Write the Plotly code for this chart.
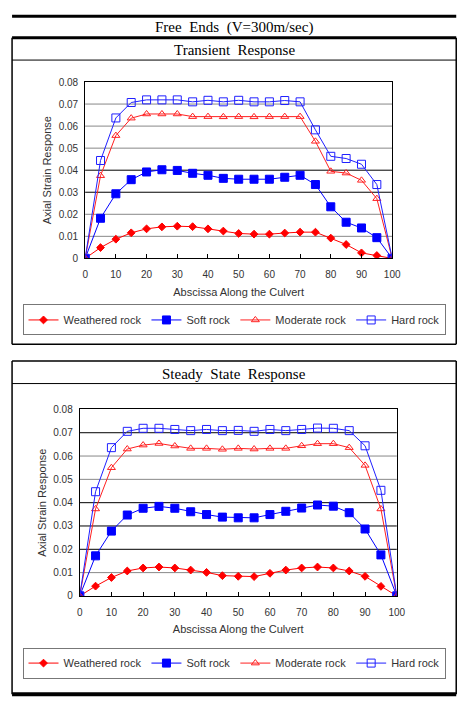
import plotly.graph_objects as go

# abscissa along the culvert
x = [0, 5, 10, 15, 20, 25, 30, 35, 40, 45, 50, 55, 60, 65, 70, 75, 80, 85, 90, 95, 100]

# transient response
tr_weathered = [0, 0.0049, 0.0087, 0.0116, 0.0134, 0.0143, 0.0146, 0.0144, 0.0134, 0.0124, 0.0113,
                0.0110, 0.0110, 0.0115, 0.0119, 0.0119, 0.0092, 0.0063, 0.0025, 0.0013, 0]
tr_soft = [0, 0.0182, 0.0293, 0.0357, 0.0392, 0.0402, 0.0399, 0.0386, 0.0377, 0.0363, 0.0359,
           0.0359, 0.0359, 0.0368, 0.0377, 0.0335, 0.0234, 0.0164, 0.0138, 0.0094, 0]
tr_moderate = [0, 0.0375, 0.0557, 0.0636, 0.0655, 0.0655, 0.0655, 0.0643, 0.0643, 0.0642, 0.0643,
               0.0642, 0.0643, 0.0643, 0.0643, 0.0531, 0.0395, 0.0387, 0.0354, 0.0271, 0]
tr_hard = [0, 0.0444, 0.0637, 0.0707, 0.0719, 0.0719, 0.0719, 0.0710, 0.0717, 0.0710, 0.0717,
           0.0710, 0.0710, 0.0716, 0.0710, 0.0583, 0.0463, 0.0453, 0.0427, 0.0335, 0]

# steady state response
ss_weathered = [0, 0.0042, 0.0079, 0.0107, 0.0120, 0.0124, 0.0120, 0.0111, 0.0101, 0.0087, 0.0084,
                0.0083, 0.0097, 0.0111, 0.0120, 0.0124, 0.0120, 0.0107, 0.0084, 0.0041, 0]
ss_soft = [0, 0.0172, 0.0278, 0.0347, 0.0376, 0.0384, 0.0376, 0.0361, 0.0349, 0.0338, 0.0335,
           0.0335, 0.0349, 0.0363, 0.0377, 0.0390, 0.0385, 0.0357, 0.0287, 0.0176, 0]
ss_moderate = [0, 0.0373, 0.0550, 0.0630, 0.0647, 0.0654, 0.0643, 0.0633, 0.0633, 0.0629, 0.0633,
               0.0630, 0.0633, 0.0633, 0.0644, 0.0653, 0.0653, 0.0636, 0.0560, 0.0373, 0]
ss_hard = [0, 0.0447, 0.0636, 0.0706, 0.0719, 0.0719, 0.0714, 0.0709, 0.0714, 0.0709, 0.0710,
           0.0706, 0.0714, 0.0709, 0.0714, 0.0720, 0.0719, 0.0709, 0.0644, 0.0453, 0]

names = ["Weathered rock", "Soft rock", "Moderate rock", "Hard rock"]
y_ticks = [0, 0.01, 0.02, 0.03, 0.04, 0.05, 0.06, 0.07, 0.08]
x_ticks = [0, 10, 20, 30, 40, 50, 60, 70, 80, 90, 100]

W, H = 474, 715
def px(v): return v / W
def py(v): return 1 - v / H

styles = [
    dict(color="#ff0000", symbol="diamond", size=6),
    dict(color="#0000ff", symbol="square", size=8),
    dict(color="#ff2020", symbol="triangle-up-open", size=7),
    dict(color="#2020ff", symbol="square-open", size=8),
]

fig = go.Figure()

panels = [
    ([tr_weathered, tr_soft, tr_moderate, tr_hard], "x", "y", "legend"),
    ([ss_weathered, ss_soft, ss_moderate, ss_hard], "x2", "y2", "legend2"),
]
for series, xa, ya, lg in panels:
    for vals, name, s in zip(series, names, styles):
        fig.add_trace(go.Scatter(
            x=x, y=vals, name=name, mode="lines+markers", xaxis=xa, yaxis=ya, legend=lg,
            line=dict(color=s["color"], width=1),
            marker=dict(symbol=s["symbol"], size=s["size"], color=s["color"],
                        line=dict(color=s["color"], width=1)),
        ))

sans = "Liberation Sans"
tick_font = dict(family=sans, size=10, color="#333333")
axis_common = dict(showline=True, linecolor="#000000", linewidth=1, mirror=True,
                   showgrid=False, zeroline=False, tickfont=tick_font)
xt = dict(text="Abscissa Along the Culvert", standoff=8, font=dict(family=sans, size=11))
yt = dict(text="Axial Strain Response", standoff=4, font=dict(family=sans, size=11))
x_common = dict(range=[0, 100], tickvals=x_ticks, ticks="inside", ticklen=4,
                tickcolor="#000000", ticklabelstandoff=7, title=xt, **axis_common)
y_common = dict(range=[0, 0.08], tickvals=y_ticks, ticks="", ticklabelstandoff=4,
                title=yt, **axis_common)
legend_common = dict(orientation="h", x=0.5, xanchor="center", yanchor="middle",
                     bordercolor="#777777", borderwidth=1, bgcolor="white",
                     font=dict(family=sans, size=11, color="#333333"))

fig.update_layout(
    width=W, height=H, margin=dict(l=0, r=0, t=0, b=0),
    paper_bgcolor="white", plot_bgcolor="white", showlegend=True,
    font=dict(family=sans, size=11, color="#333333"),
    xaxis=dict(domain=[px(84.3), px(399.3)], anchor="y", **x_common),
    yaxis=dict(domain=[py(256.7), py(77.3)], anchor="x", **y_common),
    xaxis2=dict(domain=[px(78.7), px(404)], anchor="y2", **x_common),
    yaxis2=dict(domain=[py(600), py(410.3)], anchor="x2", **y_common),
    legend=dict(y=py(319.3), **legend_common),
    legend2=dict(y=py(668.3), **legend_common),
)

# gridlines (some print darker in the original)
grid_tr = {0.01: "#888888", 0.02: "#888888", 0.03: "#000000", 0.04: "#000000",
           0.05: "#888888", 0.06: "#888888", 0.07: "#888888"}
grid_ss = {0.01: "#888888", 0.02: "#000000", 0.03: "#000000", 0.04: "#000000",
           0.05: "#888888", 0.06: "#888888", 0.07: "#000000"}
for grid, xa, ya in [(grid_tr, "x", "y"), (grid_ss, "x2", "y2")]:
    for gv, gc in grid.items():
        fig.add_shape(type="line", xref=xa + " domain", yref=ya, x0=0, x1=1, y0=gv, y1=gv,
                      line=dict(color=gc, width=1), layer="below")

# frame lines of the table
def hline(yv, w, x0=9.3, x1=465):
    fig.add_shape(type="line", xref="paper", yref="paper", x0=px(x0), x1=px(x1),
                  y0=py(yv), y1=py(yv), line=dict(color="black", width=w))

def vline(xv, y0, y1, w=1.5):
    fig.add_shape(type="line", xref="paper", yref="paper", x0=px(xv), x1=px(xv),
                  y0=py(y0), y1=py(y1), line=dict(color="black", width=w))

hline(10.5, 3)
hline(32.3, 3)
hline(55, 1)
hline(344, 1.5)
vline(9.3, 32.3, 344)
vline(465, 32.3, 344)
hline(361, 1.5)
hline(384, 1)
hline(700, 4)
vline(9.3, 361, 700)
vline(465, 361, 700)

title_font = dict(family="Liberation Serif", size=15, color="black")
for txt, yv in [("Free  Ends  (V=300m/sec)", 22), ("Transient  Response", 44.5),
                ("Steady  State  Response", 374)]:
    fig.add_annotation(text=txt, xref="paper", yref="paper", x=px(237), y=py(yv),
                       showarrow=False, font=title_font, xanchor="center", yanchor="middle")

fig.write_html("out.html", config={"displayModeBar": False},
               post_script="document.body.style.margin='0px';document.body.style.overflow='hidden';")
